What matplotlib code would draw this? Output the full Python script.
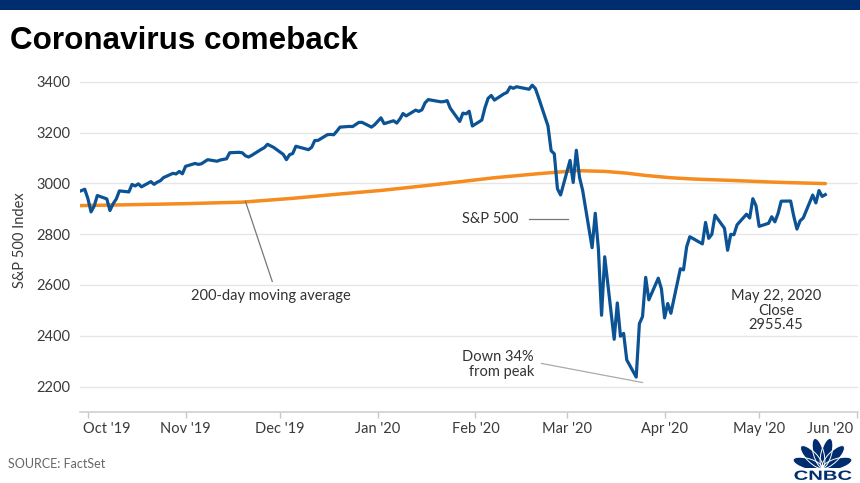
import matplotlib
matplotlib.use("Agg")
import matplotlib.pyplot as plt
import matplotlib.dates as mdates
import matplotlib.transforms as mtransforms
import pandas as pd
import numpy as np
from matplotlib.patches import Ellipse, Rectangle, PathPatch
from matplotlib.textpath import TextPath
from matplotlib.font_manager import FontProperties

# ---------------- data ----------------
sp_dates = [
    "2019-09-27", "2019-09-30", "2019-10-01", "2019-10-02", "2019-10-03", "2019-10-04",
    "2019-10-07", "2019-10-08", "2019-10-09", "2019-10-10", "2019-10-11", "2019-10-14",
    "2019-10-15", "2019-10-16", "2019-10-17", "2019-10-18", "2019-10-21", "2019-10-22",
    "2019-10-23", "2019-10-24", "2019-10-25", "2019-10-28", "2019-10-29", "2019-10-30",
    "2019-10-31", "2019-11-01", "2019-11-04", "2019-11-05", "2019-11-06", "2019-11-07",
    "2019-11-08", "2019-11-11", "2019-11-12", "2019-11-13", "2019-11-14", "2019-11-15",
    "2019-11-18", "2019-11-19", "2019-11-20", "2019-11-21", "2019-11-22", "2019-11-25",
    "2019-11-26", "2019-11-27", "2019-11-29", "2019-12-02", "2019-12-03", "2019-12-04",
    "2019-12-05", "2019-12-06", "2019-12-09", "2019-12-10", "2019-12-11", "2019-12-12",
    "2019-12-13", "2019-12-16", "2019-12-17", "2019-12-18", "2019-12-19", "2019-12-20",
    "2019-12-23", "2019-12-24", "2019-12-26", "2019-12-27", "2019-12-30", "2019-12-31",
    "2020-01-02", "2020-01-03", "2020-01-06", "2020-01-07", "2020-01-08", "2020-01-09",
    "2020-01-10", "2020-01-13", "2020-01-14", "2020-01-15", "2020-01-16", "2020-01-17",
    "2020-01-21", "2020-01-22", "2020-01-23", "2020-01-24", "2020-01-27", "2020-01-28",
    "2020-01-29", "2020-01-30", "2020-01-31", "2020-02-03", "2020-02-04", "2020-02-05",
    "2020-02-06", "2020-02-07", "2020-02-10", "2020-02-11", "2020-02-12", "2020-02-13",
    "2020-02-14", "2020-02-18", "2020-02-19", "2020-02-20", "2020-02-21", "2020-02-24",
    "2020-02-25", "2020-02-26", "2020-02-27", "2020-02-28", "2020-03-02", "2020-03-03",
    "2020-03-04", "2020-03-05", "2020-03-06", "2020-03-09", "2020-03-10", "2020-03-11",
    "2020-03-12", "2020-03-13", "2020-03-16", "2020-03-17", "2020-03-18", "2020-03-19",
    "2020-03-20", "2020-03-23", "2020-03-24", "2020-03-25", "2020-03-26", "2020-03-27",
    "2020-03-30", "2020-03-31", "2020-04-01", "2020-04-02", "2020-04-03", "2020-04-06",
    "2020-04-07", "2020-04-08", "2020-04-09", "2020-04-13", "2020-04-14", "2020-04-15",
    "2020-04-16", "2020-04-17", "2020-04-20", "2020-04-21", "2020-04-22", "2020-04-23",
    "2020-04-24", "2020-04-27", "2020-04-28", "2020-04-29", "2020-04-30", "2020-05-01",
    "2020-05-04", "2020-05-05", "2020-05-06", "2020-05-07", "2020-05-08", "2020-05-11",
    "2020-05-12", "2020-05-13", "2020-05-14", "2020-05-15", "2020-05-18", "2020-05-19",
    "2020-05-20", "2020-05-21", "2020-05-22",
]
sp_values = [
    2961.79, 2976.74, 2940.25, 2887.61, 2910.63, 2952.01,
    2938.79, 2893.06, 2919.40, 2938.13, 2970.27, 2966.15,
    2995.68, 2989.69, 2997.95, 2986.20, 3006.72, 2995.99,
    3004.52, 3010.29, 3022.55, 3039.42, 3036.89, 3046.77,
    3037.56, 3066.91, 3078.27, 3074.62, 3076.78, 3085.18,
    3093.08, 3087.01, 3091.84, 3094.04, 3096.63, 3120.46,
    3122.03, 3120.18, 3108.46, 3103.54, 3110.29, 3133.64,
    3140.52, 3153.63, 3140.98, 3113.87, 3093.20, 3112.76,
    3117.43, 3145.91, 3135.96, 3132.52, 3141.63, 3168.57,
    3168.80, 3191.45, 3192.52, 3191.14, 3205.37, 3221.22,
    3224.01, 3223.38, 3239.91, 3240.02, 3221.29, 3230.78,
    3257.85, 3234.85, 3246.28, 3237.18, 3253.05, 3274.70,
    3265.35, 3288.13, 3283.15, 3289.29, 3316.81, 3329.62,
    3320.79, 3321.75, 3325.54, 3295.47, 3243.63, 3276.24,
    3273.40, 3283.66, 3225.52, 3248.92, 3297.59, 3334.69,
    3345.78, 3327.71, 3352.09, 3357.75, 3379.45, 3373.94,
    3380.16, 3370.29, 3386.15, 3373.23, 3337.75, 3225.89,
    3128.21, 3116.39, 2978.76, 2954.22, 3090.23, 3003.37,
    3130.12, 3023.94, 2972.37, 2746.56, 2882.23, 2741.38,
    2480.64, 2711.02, 2386.13, 2529.19, 2398.10, 2409.39,
    2304.92, 2237.40, 2447.33, 2475.56, 2630.07, 2541.47,
    2626.65, 2584.59, 2470.50, 2526.90, 2488.65, 2663.68,
    2659.41, 2749.98, 2789.82, 2761.63, 2846.06, 2783.36,
    2799.55, 2874.56, 2823.16, 2736.56, 2799.31, 2797.80,
    2836.74, 2878.48, 2863.39, 2939.51, 2912.43, 2830.71,
    2842.74, 2868.44, 2848.42, 2881.19, 2929.80, 2930.32,
    2870.12, 2820.00, 2852.50, 2863.70, 2953.91, 2922.94,
    2971.61, 2948.51, 2955.45,
]

ma_dates = [
    "2019-09-27", "2019-10-15", "2019-11-01", "2019-11-19", "2019-12-05",
    "2019-12-19", "2020-01-02", "2020-01-17", "2020-02-07", "2020-02-21",
    "2020-03-04", "2020-03-13", "2020-03-20", "2020-03-26", "2020-04-03",
    "2020-04-10", "2020-04-21", "2020-05-07", "2020-05-22",
]
ma_values = [
    2912, 2916, 2920, 2926, 2941,
    2957, 2972, 2992, 3022, 3038,
    3050, 3047, 3040, 3031, 3022,
    3017, 3012, 3004, 2999,
]

tick_dates = ["2019-10-01", "2019-11-01", "2019-12-01", "2020-01-01", "2020-02-01",
              "2020-03-01", "2020-04-01", "2020-05-01", "2020-06-01"]
tick_labels = ["Oct '19", "Nov '19", "Dec '19", "Jan '20", "Feb '20",
               "Mar '20", "Apr '20", "May '20", "Jun '20"]
y_ticks = [2200, 2400, 2600, 2800, 3000, 3200, 3400]

# ---------------- style ----------------
BLUE = "#0b5394"
ORANGE = "#f68b1f"
NAVY = "#002d6e"
TXT = "#3a3a3a"
FONT = ["Lato", "DejaVu Sans"]
plt.rcParams["font.family"] = FONT

W, H = 860, 483
fig = plt.figure(figsize=(W / 100, H / 100), dpi=100)
fig.patch.set_facecolor("white")

# top navy bar
fig.add_artist(Rectangle((0, 1 - 10 / H), 1, 10 / H, transform=fig.transFigure,
                         color=NAVY, lw=0, zorder=0))

# title
fig.text(10 / W, 1 - 41 / H, "Coronavirus comeback", fontsize=22.6, fontweight="bold",
         family=["Liberation Sans", "DejaVu Sans"], color="#000000", va="center", ha="left")

ax = fig.add_axes([80 / W, 1 - 412 / H, 778 / W, (412 - 69) / H])
sd = pd.to_datetime(sp_dates)
md = pd.to_datetime(ma_dates)

ax.plot(md, ma_values, color=ORANGE, lw=2.5, solid_capstyle="round", zorder=3)
ax.plot(sd, sp_values, color=BLUE, lw=2.3, solid_joinstyle="round", zorder=4)

ax.set_xlim(pd.Timestamp("2019-09-28 12:00"), pd.Timestamp("2020-06-01 09:00"))
ax.set_ylim(2100, 3450)

ax.set_yticks(y_ticks)
ax.set_yticklabels([str(v) for v in y_ticks])
ax.set_xticks(pd.to_datetime(tick_dates))
ax.set_xticklabels(tick_labels)

for v in y_ticks:
    ax.axhline(v, color="#e6e6e6", lw=1, zorder=1)

for s in ["top", "right", "left"]:
    ax.spines[s].set_visible(False)
ax.spines["bottom"].set_color("#cfcfcf")
ax.spines["bottom"].set_linewidth(1.2)
ax.tick_params(axis="y", length=0, pad=7, labelsize=10.5, labelcolor=TXT)
ax.tick_params(axis="x", length=4, width=1, color="#c8c8c8", pad=3, labelsize=10.5,
               labelcolor=TXT)

# shift first / last x tick labels inward like the reference
xl = ax.get_xticklabels()
xl[0].set_horizontalalignment("left")
xl[0].set_transform(xl[0].get_transform() +
                    mtransforms.ScaledTranslation(-5 / 100, 0, fig.dpi_scale_trans))
xl[-1].set_horizontalalignment("right")
xl[-1].set_transform(xl[-1].get_transform() +
                     mtransforms.ScaledTranslation(-4 / 100, 0, fig.dpi_scale_trans))

ax.set_ylabel("S&P 500 Index", fontsize=10.5, color=TXT)
ax.yaxis.set_label_coords(-53 / 778, 0.5)

# annotations
ann_kw = dict(color="#333333", fontsize=10.5)
ax.text(pd.Timestamp("2020-02-05 18:00"), 2858, "S&P 500", ha="center", va="center", **ann_kw)
ax.plot([pd.Timestamp("2020-02-18"), pd.Timestamp("2020-03-01 12:00")], [2858, 2858],
        color="#777777", lw=0.9, zorder=5)

ax.text(pd.Timestamp("2019-11-28"), 2555, "200-day moving average", ha="center",
        va="center", **ann_kw)
ax.plot([pd.Timestamp("2019-11-20"), pd.Timestamp("2019-11-28 12:00")], [2929, 2614],
        color="#777777", lw=0.9, zorder=5)

ax.text(pd.Timestamp("2020-02-19 12:00"), 2288, "Down 34%\nfrom peak", ha="right",
        va="center", linespacing=1.05, **ann_kw)
ax.plot([pd.Timestamp("2020-02-22"), pd.Timestamp("2020-03-25")], [2291, 2216],
        color="#aaaaaa", lw=0.9, zorder=5)

ax.text(pd.Timestamp("2020-05-06 10:00"), 2498, "May 22, 2020\nClose\n2955.45",
        ha="center", va="center", linespacing=1.05, **ann_kw)

# source
fig.text(8 / W, 1 - 464 / H, "SOURCE: FactSet", fontsize=9, color="#666666",
         va="center", ha="left")

# CNBC logo (pixel-like coordinates inside a small axes)
lax = fig.add_axes([792 / W, 1 - 482 / H, 62 / W, 46 / H])
lax.set_xlim(0, 62)
lax.set_ylim(0, 46)
lax.axis("off")
cx, cy = 30.5, 14.0
for a in [16, 45.6, 75.2, 104.8, 134.4, 164]:
    r = np.deg2rad(a)
    ex = cx + 15.5 * np.cos(r)
    ey = cy + 15.5 * np.sin(r)
    lax.add_patch(Ellipse((ex, ey), 30, 10.5, angle=a, color=NAVY, lw=0, zorder=1))
    lax.add_patch(Ellipse((ex, ey), 30, 10.5, angle=a, fill=False, ec="white",
                          lw=0.7, zorder=1.5))
lax.add_patch(Rectangle((0, 0), 62, cy, color="white", lw=0, zorder=2))
tp = TextPath((0, 0), "CNBC", size=10,
              prop=FontProperties(family="Liberation Sans", weight="bold"))
bb = tp.get_extents()
sx = 57 / bb.width
sy = 9.5 / bb.height
trans = mtransforms.Affine2D().translate(-bb.x0, -bb.y0).scale(sx, sy).translate(2.5, 2.0)
lax.add_patch(PathPatch(trans.transform_path(tp), color=NAVY, lw=0, zorder=3))

fig.savefig("out.png", dpi=100, facecolor="white")
